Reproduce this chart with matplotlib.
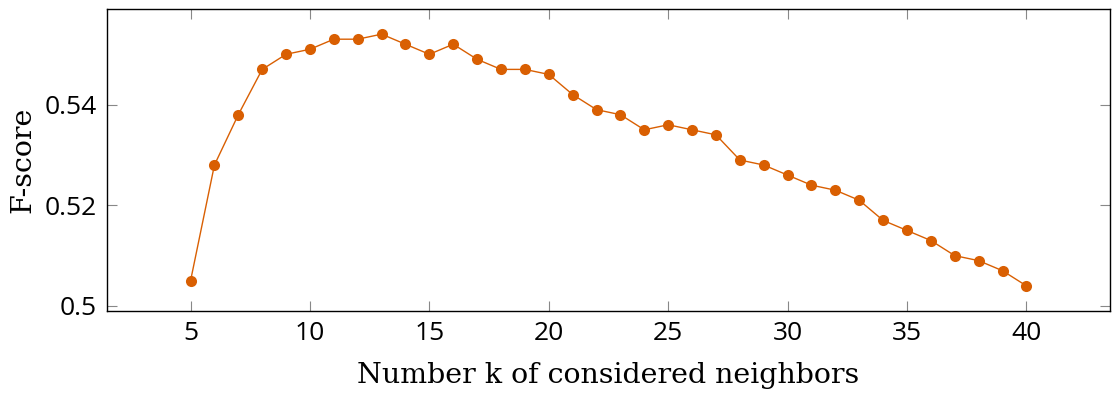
import matplotlib
matplotlib.use("Agg")
import matplotlib.pyplot as plt

# number of neighbors k and the F-score for each
k_values = list(range(5, 41))
f_scores = [0.505, 0.528, 0.538, 0.547, 0.550, 0.551, 0.553, 0.553, 0.554,
            0.552, 0.550, 0.552, 0.549, 0.547, 0.547, 0.546, 0.542, 0.539,
            0.538, 0.535, 0.536, 0.535, 0.534, 0.529, 0.528, 0.526, 0.524,
            0.523, 0.521, 0.517, 0.515, 0.513, 0.510, 0.509, 0.507, 0.504]
x_ticks = [5, 10, 15, 20, 25, 30, 35, 40]
y_ticks = [0.50, 0.52, 0.54]
y_tick_labels = ["0.5", "0.52", "0.54"]

color = "#d95f02"

fig = plt.figure(figsize=(11.13, 3.98), dpi=100)
ax = fig.add_axes([0.0961, 0.2186, 0.9012, 0.7588])

ax.plot(k_values, f_scores, color=color, linewidth=1.0,
        marker="o", markersize=8, markeredgewidth=0)

ax.set_xlim(1.5, 43.5)
ax.set_ylim(0.499, 0.559)
ax.set_xticks(x_ticks)
ax.set_yticks(y_ticks)
ax.set_yticklabels(y_tick_labels)

ax.tick_params(direction="in", length=7, width=0.8, color="#888888",
               top=True, right=True, labelsize=19, pad=7)
for lbl in ax.get_xticklabels() + ax.get_yticklabels():
    lbl.set_fontfamily("Open Sans")

for sp in ax.spines.values():
    sp.set_linewidth(1.0)
    sp.set_color("black")

ax.set_xlabel("Number k of considered neighbors", fontsize=20.5,
              family="DejaVu Serif", labelpad=12)
ax.set_ylabel("F-score", fontsize=20.5, family="DejaVu Serif", labelpad=6)

fig.savefig("out.png", dpi=100)
